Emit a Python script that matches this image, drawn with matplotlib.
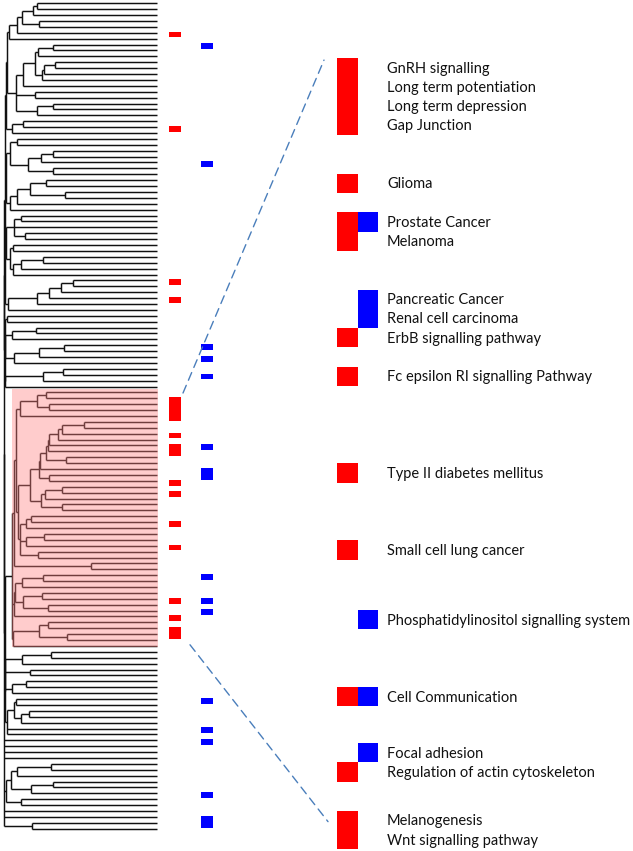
import matplotlib
matplotlib.use("Agg")
import matplotlib.pyplot as plt
from matplotlib.patches import Rectangle, ConnectionPatch

# ---------------- data ----------------
n_leaves = 141
# dendrogram merges: (node name, merge height on the x scale, children); ints are leaves
merges = [
    ("n1", 37, [0, 1]), ("n2", 33, ["n1", 2]), ("n3", 39, [3, 4]), ("n4", 22, ["n2", "n3"]),
    ("n5", 17, ["n4", 5]), ("n6", 9, ["n5", 6]),
    ("a1", 53, [7, 8]), ("a2", 38, ["a1", 9]), ("a3", 55, [10, 11]), ("a4", 44, ["a3", 12]),
    ("a5", 42, ["a4", 13]), ("a6", 35, ["a2", "a5"]), ("a7", 23, ["a6", 14]),
    ("b1", 35, [15, 16]), ("c1", 53, [17, 18]), ("c2", 37, ["c1", 19]),
    ("D", 16, ["a7", "b1", "c2"]), ("T1", 7, ["n6", "D"]),
    ("e1", 23, [20, 21]), ("E", 12, ["e1", 22]), ("T2", 5.5, ["T1", "E"]),
    ("f1", 17, [23, 24]), ("f2", 53, [25, 26]), ("f3", 41, ["f2", 27]), ("f4", 53, [28, 29]),
    ("f5", 28, ["f3", "f4"]), ("f6", 10, ["f1", "f5"]),
    ("g1", 46, [30, 31]), ("g2", 65, [32, 33]), ("g3", 30, ["g1", "g2"]), ("g4", 17, ["g3", 34]),
    ("g5", 10, ["g4", 35]), ("FG", 6, ["f6", "g5"]),
    ("h1", 21, [36, 37]), ("h3", 25, [39, 40]), ("h4", 14, ["h1", 38, "h3"]),
    ("i1", 13, [41, 42]), ("i2", 43, [43, 44]), ("i3", 21, ["i2", 45]), ("i4", 13, ["i3", 46]),
    ("i5", 10, ["i1", "i4"]), ("HI", 6, ["h4", "i5"]),
    ("j1", 73, [47, 48]), ("j2", 61, ["j1", 49]), ("j3", 49, ["j2", 50]), ("j4", 37, ["j3", 51]),
    ("j5", 8, ["j4", 52]), ("A1", 5, ["T2", "FG", "HI", "j5"]),
    ("k1", 7, [53, 54]), ("k2", 36, [55, 56]), ("k3", 12, ["k2", 57]), ("k4", 64, [58, 59]),
    ("k5", 39, ["k4", 60]), ("k6", 14, ["k5", 61]), ("k7", 5, ["k3", "k6"]),
    ("l1", 63, [62, 63]), ("l2", 43, ["l1", 64]), ("l3", 5, ["l2", 65]),
    ("K", 4.5, ["k1", "k7", "l3"]), ("A2", 4.2, ["A1", "K"]),
    ("m1", 46, [66, 67]), ("m2", 49, [68, 69]), ("m3", 37, ["m1", "m2"]), ("m4", 20, ["m3", 70]),
    ("p01", 84, [71, 72]), ("p02", 62, ["p01", 73]), ("p03", 58, ["p02", 74]),
    ("p04", 49, ["p03", 75]), ("p05", 47.5, ["p04", 76]), ("o1", 66, [77, 78]),
    ("p06", 46, ["p05", "o1"]), ("p07", 40, ["p06", 79]), ("o2", 49, [80, 81]),
    ("p08", 39, ["p07", "o2"]), ("q01", 62, [82, 83]), ("q02", 45, ["q01", 84]),
    ("q03", 62, [85, 86]), ("q04", 41, ["q02", "q03"]), ("p09", 30, ["p08", "q04"]),
    ("r1", 31, [87, 88]), ("r2", 26, ["r1", 89]), ("r3", 44, [90, 91]), ("r4", 26, ["r3", 92]),
    ("r5", 38, [93, 94]), ("R", 20, ["r2", "r4", "r5"]), ("Nn", 18, ["p09", "R"]),
    ("MN", 16, ["m4", "Nn"]), ("s1", 91, [95, 96]), ("PA", 14, ["MN", "s1"]),
    ("t1", 43, [97, 98]), ("t2", 22, ["t1", 99]), ("t3", 42, [100, 101]), ("t4", 48, [102, 103]),
    ("t5", 23, ["t3", "t4"]), ("t6", 15, ["t2", "t5"]), ("PB", 13.5, ["t6", 104]),
    ("u1", 48, [105, 106]), ("u2", 67, [107, 108]), ("u3", 39, ["u1", "u2"]), ("u4", 13, ["u3", 109]),
    ("P", 12, ["PA", "PB", "u4"]),
    ("v1", 51, [110, 111]), ("v2", 22, ["v1", 112]), ("w1", 30, [113, 114]),
    ("w2", 26, [115, 116]), ("w3", 12, ["w2", 117]),
    ("x1", 16, [118, 119]), ("x2", 29, [120, 121]), ("x3", 21, ["x2", 122]), ("x4", 14, ["x1", "x3"]),
    ("x5", 7, ["x4", 123, 124]), ("LOW", 5, ["v2", "w1", "w3", "x5"]),
    ("B", 4.5, ["P", "LOW"]), ("UP", 4, ["A2", "B"]),
    ("y1", 51, [129, 130]), ("y2", 17, ["y1", 131]), ("y3", 53, [132, 133]), ("y4", 31, ["y3", 134]),
    ("y5", 11, ["y2", "y4"]), ("y6", 21, [135, 136]), ("y7", 6, ["y5", "y6"]),
    ("z1", 32, [139, 140]),
    ("root", 3.5, ["UP", 125, 126, 127, 128, "y7", 137, 138, "z1"]),
]
highlight_leaves = (66, 109)          # leaves inside the pink cluster

red_rows = [5, 21, 47, 50, 67, 68, 69, 70, 73, 75, 76, 81, 83, 88, 92, 101, 104, 106, 107]
blue_rows = [7, 27, 58, 60, 63, 75, 79, 80, 97, 101, 103, 118, 123, 125, 134, 138, 139]

pathways = ["GnRH signalling", "Long term potentiation", "Long term depression", "Gap Junction",
            "Glioma", "Prostate Cancer", "Melanoma", "Pancreatic Cancer", "Renal cell carcinoma",
            "ErbB signalling pathway", "Fc epsilon RI signalling Pathway", "Type II diabetes mellitus",
            "Small cell lung cancer", "Phosphatidylinositol signalling system", "Cell Communication",
            "Focal adhesion", "Regulation of actin cytoskeleton", "Melanogenesis", "Wnt signalling pathway"]
path_red = [1, 1, 1, 1, 1, 1, 1, 0, 0, 1, 1, 1, 1, 0, 1, 0, 1, 1, 1]
path_blue = [0, 0, 0, 0, 0, 1, 0, 1, 1, 0, 0, 0, 0, 1, 1, 1, 0, 0, 0]

# ---------------- layout ----------------
W, H = 633, 851
panel_slot = [0, 1, 2, 3, 6, 8, 9, 12, 13, 14, 16, 21, 25, 28.6, 32.6, 35.5, 36.5, 39, 40]
leaf_x = 157
leaf_y0, leaf_dy = 3.3, 5.896
slot_y0, slot_dy = 67.6, 19.3
RED, BLUE = "#ff0000", "#0000ff"

fig = plt.figure(figsize=(W / 100, H / 100), dpi=100)
axL = fig.add_axes([0, 0, 1, 1])
axR = fig.add_axes([0, 0, 1, 1])
for ax in (axL, axR):
    ax.set_xlim(0, W)
    ax.axis("off")
    ax.patch.set_alpha(0)
axL.set_ylim((H - leaf_y0) / leaf_dy, -leaf_y0 / leaf_dy)
axR.set_ylim((H - slot_y0) / slot_dy, -slot_y0 / slot_dy)

# ---- dendrogram
nodes = {name: (h, ch) for name, h, ch in merges}


def draw(node):
    if isinstance(node, int):
        return float(node), leaf_x
    h, ch = nodes[node]
    ys = []
    for c in ch:
        cy, cx = draw(c)
        axL.plot([h, cx], [cy, cy], color="#111111", lw=1.05, solid_capstyle="butt", zorder=2)
        ys.append(cy)
    axL.plot([h, h], [min(ys), max(ys)], color="#111111", lw=1.05, solid_capstyle="butt", zorder=2)
    return (min(ys) + max(ys)) / 2, h


draw("root")

lo, hi = highlight_leaves
axL.add_patch(Rectangle((11.7, lo - 0.63), 158.3 - 11.7, hi - lo + 0.75,
                        facecolor="#ff8080", alpha=0.4, edgecolor="none", zorder=3))

# ---- marker columns
for r in red_rows:
    axL.add_patch(Rectangle((168.5, r - 0.2), 12.5, 1.0, facecolor=RED, edgecolor="none", zorder=4))
for r in blue_rows:
    axL.add_patch(Rectangle((200.5, r - 0.2), 12.5, 1.0, facecolor=BLUE, edgecolor="none", zorder=4))

# ---- zoomed panel
for name, s, rd, bl in zip(pathways, panel_slot, path_red, path_blue):
    if rd:
        axR.add_patch(Rectangle((337, s - 0.5), 21, 1.0, facecolor=RED, edgecolor="none"))
    if bl:
        axR.add_patch(Rectangle((358, s - 0.5), 19.5, 1.0, facecolor=BLUE, edgecolor="none"))
    axR.text(387, s + 0.05, name, fontsize=10.5, family=["Lato", "DejaVu Sans"], va="center",
             ha="left", color="#111111")

# ---- dashed connectors
for (xa, ya), (xb, yb) in [((183, 66.1), (324, -0.39)), ((190, 108.8), (328, 39.07))]:
    con = ConnectionPatch(xyA=(xa, ya), coordsA=axL.transData, xyB=(xb, yb), coordsB=axR.transData,
                          color="#4a7ebb", lw=1.0, linestyle=(0, (6, 4)))
    fig.add_artist(con)

fig.savefig("out.png", dpi=100)
